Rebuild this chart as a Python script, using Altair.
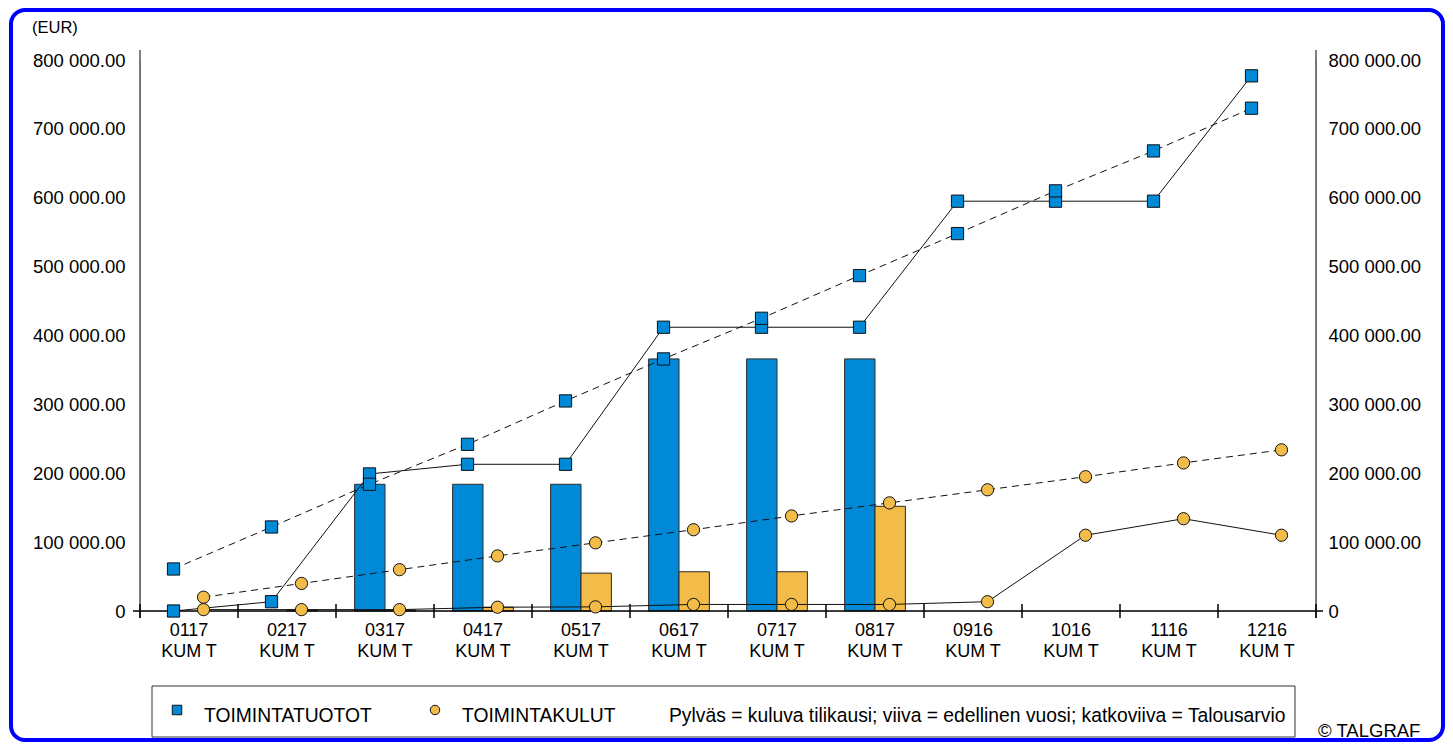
import altair as alt
import pandas as pd

# ---------------- data ----------------
categories = ["0117", "0217", "0317", "0417", "0517", "0617",
              "0717", "0817", "0916", "1016", "1116", "1216"]
category_sub = "KUM T"
series_names = ["TOIMINTATUOTOT", "TOIMINTAKULUT"]
note_text = "Pylväs = kuluva tilikausi; viiva = edellinen vuosi; katkoviiva = Talousarvio"
copyright_text = "© TALGRAF"
unit_text = "(EUR)"

# TOIMINTATUOTOT
tuotot_current = [None, None, 184000, 184000, 184000, 366000, 366000, 366000, None, None, None, None]
tuotot_previous = [0, 13500, 199000, 213000, 213000, 412000, 412000, 412000, 595000, 595000, 595000, 777000]
tuotot_budget = [61000, 122000, 184000, 242000, 305000, 366000, 425000, 487000, 548000, 610000, 668000, 730000]
# TOIMINTAKULUT
kulut_current = [None, 1500, 1500, 5500, 55000, 57000, 57000, 152000, None, None, None, None]
kulut_previous = [2000, 2000, 2000, 5500, 6000, 9500, 9500, 9500, 13500, 110000, 134000, 110000]
kulut_budget = [20000, 40000, 60000, 80000, 99000, 118000, 138000, 157000, 176000, 195000, 215000, 234000]

y_ticks = [0, 100000, 200000, 300000, 400000, 500000, 600000, 700000, 800000]

# ---------------- table ----------------
rows = []
for i, cat in enumerate(categories):
    for s, cur, prev, bud in [
        (series_names[0], tuotot_current, tuotot_previous, tuotot_budget),
        (series_names[1], kulut_current, kulut_previous, kulut_budget),
    ]:
        rows.append(dict(i=i, cat=cat, series=s, kind="current", value=cur[i]))
        rows.append(dict(i=i, cat=cat, series=s, kind="previous", value=prev[i]))
        rows.append(dict(i=i, cat=cat, series=s, kind="budget", value=bud[i]))
df = pd.DataFrame(rows)

labels_df = pd.DataFrame({"i": list(range(len(categories))),
                          "lbl": [c + "\n" + category_sub for c in categories]})
ticks_df = pd.DataFrame({"b": list(range(len(categories) + 1))})

W, H = 1176, 551
FONT = "Liberation Sans"
BLUE = "#0089D7"
ORANGE = "#F3BB47"

xscale = alt.Scale(domain=[0, len(categories)], nice=False, zero=False)
yscale = alt.Scale(domain=[0, 800000], nice=False, zero=True)
label_expr = "datum.value == 0 ? '0' : replace(format(datum.value, ',.2f'), regexp(',', 'g'), ' ')"

fill_scale = alt.Scale(domain=series_names, range=[BLUE, ORANGE])
shape_scale = alt.Scale(domain=series_names, range=["square", "circle"])

base = alt.Chart(df)

bars = base.transform_filter(
    "datum.kind == 'current' && isValid(datum.value)"
).transform_calculate(
    x0="datum.i + (datum.series == '%s' ? 0.19 : 0.5)" % series_names[0],
    x1="datum.i + (datum.series == '%s' ? 0.5 : 0.81)" % series_names[0],
).mark_rect(stroke="#2a2a2a", strokeWidth=1).encode(
    x=alt.X("x0:Q", scale=xscale, axis=None),
    x2="x1:Q",
    y=alt.Y("value:Q", scale=yscale, axis=None),
    y2=alt.datum(0),
    fill=alt.Fill("series:N", scale=fill_scale, legend=None),
)

pts_base = base.transform_filter(
    "datum.kind != 'current' && isValid(datum.value)"
).transform_calculate(
    px="datum.i + (datum.series == '%s' ? 0.342 : 0.648)" % series_names[0]
)

line_prev = pts_base.transform_filter("datum.kind == 'previous'").mark_line(
    color="#111111", strokeWidth=1
).encode(
    x=alt.X("px:Q", scale=xscale, axis=None),
    y=alt.Y("value:Q", scale=yscale, axis=None),
    detail="series:N",
)

line_budget = pts_base.transform_filter("datum.kind == 'budget'").mark_line(
    color="#111111", strokeWidth=1, strokeDash=[7, 5]
).encode(
    x=alt.X("px:Q", scale=xscale, axis=None),
    y=alt.Y("value:Q", scale=yscale, axis=None),
    detail="series:N",
)

points = pts_base.mark_point(filled=True, stroke="#111111", strokeWidth=1,
                             size=150, opacity=1).encode(
    x=alt.X("px:Q", scale=xscale, axis=None),
    y=alt.Y("value:Q", scale=yscale, axis=None),
    fill=alt.Fill("series:N", scale=fill_scale, legend=None),
    shape=alt.Shape("series:N", scale=shape_scale, legend=None),
)

one = pd.DataFrame({"k": [0]})

# cover for the faint view edge at the top of the plot area
top_cover = alt.Chart(one).mark_rule(color="white", strokeWidth=3).encode(
    x=alt.value(1), x2=alt.value(W - 1), y=alt.value(0))

# axis lines and crossing ticks
axis_left = alt.Chart(one).mark_rule(color="black", strokeWidth=1).encode(
    x=alt.value(0), y=alt.value(-10), y2=alt.value(H + 7))
axis_right = alt.Chart(one).mark_rule(color="black", strokeWidth=1).encode(
    x=alt.value(W), y=alt.value(-10), y2=alt.value(H + 7))
axis_bottom = alt.Chart(one).mark_rule(color="black", strokeWidth=1.5).encode(
    x=alt.value(-7), x2=alt.value(W + 7), y=alt.value(H))
ticks = alt.Chart(ticks_df).mark_rule(color="black", strokeWidth=1.5).encode(
    x=alt.X("b:Q", scale=xscale, axis=None), y=alt.value(H - 7), y2=alt.value(H + 7))

xlabels = alt.Chart(labels_df).transform_calculate(
    cx="datum.i + 0.5"
).mark_text(font=FONT, fontSize=18, baseline="top", align="center",
            lineBreak="\n", lineHeight=21, color="black").encode(
    x=alt.X("cx:Q", scale=xscale, axis=None),
    y=alt.value(H + 11),
    text="lbl:N",
)

# decorations: unit, legend box, legend entries, copyright, border
def text_layer(txt, x, y, size=17.0, align="left"):
    return alt.Chart(pd.DataFrame({"t": [txt]})).mark_text(
        font=FONT, fontSize=size, align=align, baseline="middle", color="black"
    ).encode(x=alt.value(x), y=alt.value(y), text="t:N")

unit = text_layer(unit_text, -108, -32, size=16.5)

legend_box = alt.Chart(one).mark_rect(
    fill="white", stroke="#333333", strokeWidth=1
).encode(x=alt.value(12), x2=alt.value(1155), y=alt.value(626), y2=alt.value(677))

leg_sym_df = pd.DataFrame({"series": series_names, "lx": [37, 295]})
leg_syms = alt.Chart(leg_sym_df).mark_point(
    filled=True, stroke="#111111", strokeWidth=1, size=90, opacity=1
).encode(
    x=alt.X("lx:Q", scale=None, axis=None),
    y=alt.value(650),
    fill=alt.Fill("series:N", scale=fill_scale, legend=None),
    shape=alt.Shape("series:N", scale=shape_scale, legend=None),
)
LEG_FS = 19.3
leg_t1 = text_layer(series_names[0], 64, 656, size=LEG_FS)
leg_t2 = text_layer(series_names[1], 322, 656, size=LEG_FS)
leg_note = text_layer(note_text, 529, 656, size=LEG_FS)
copy_t = text_layer(copyright_text, 1178, 671, size=18.5)

border = alt.Chart(one).mark_rect(
    fill="transparent", stroke="#0000FF", strokeWidth=4, cornerRadius=14
).encode(x=alt.value(-129), x2=alt.value(W + 127), y=alt.value(-50), y2=alt.value(680))

main = alt.layer(
    border, top_cover, legend_box, bars, line_prev, line_budget, axis_bottom, ticks,
    axis_left, axis_right, points, xlabels, unit, leg_syms, leg_t1, leg_t2, leg_note, copy_t
)

def axis_layer(orient, pad):
    return alt.Chart(pd.DataFrame({"v": y_ticks})).mark_point(opacity=0).encode(
        y=alt.Y("v:Q", scale=yscale,
                axis=alt.Axis(values=y_ticks, labelExpr=label_expr, labelFontSize=18.5,
                              labelFont=FONT, labelColor="black", ticks=False, orient=orient,
                              domain=False, grid=False, title=None, labelPadding=pad))
    )

left_axis = axis_layer("left", 15)
right_axis = axis_layer("right", 12)

chart = alt.layer(main, left_axis, right_axis).resolve_scale(y="independent").properties(
    width=W, height=H,
    autosize=alt.AutoSizeParams(type="none"),
    padding={"left": 132, "top": 52, "right": 129, "bottom": 131},
).configure_view(
    stroke="transparent", strokeWidth=0
).configure_axis(grid=False).configure(font=FONT)

chart.save("out.html", embed_options={"renderer": "svg", "actions": False})
